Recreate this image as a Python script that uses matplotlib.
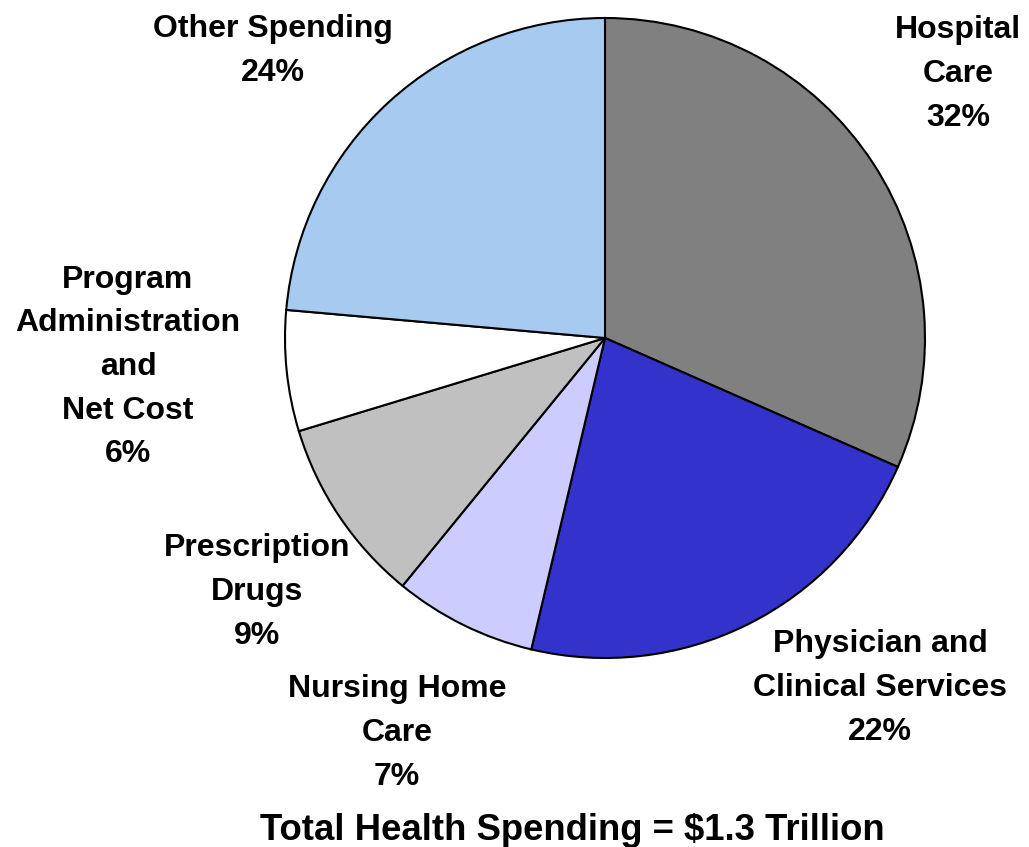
import matplotlib.pyplot as plt

W, H = 1029, 847

# slices, clockwise from 12 o'clock
categories = ["Hospital\nCare", "Physician and\nClinical Services", "Nursing Home\nCare",
              "Prescription\nDrugs", "Program\nAdministration\nand\nNet Cost", "Other Spending"]
shares = [31.6, 22.1, 7.2, 9.4, 6.1, 23.6]
pct_labels = ["32%", "22%", "7%", "9%", "6%", "24%"]
colors = ["#808080", "#3333CC", "#CCCCFF", "#C0C0C0", "#FFFFFF", "#A6CAF0"]

# label block centres in pixels
label_pos = [(958, 74), (880, 688), (397, 733), (257, 592), (128, 367), (273, 51)]

plt.rcParams['font.family'] = ['Liberation Sans', 'DejaVu Sans']

fig = plt.figure(figsize=(W / 100, H / 100), dpi=100)
cx, cy, r = 605, 338, 320
ax = fig.add_axes([(cx - r) / W, (H - cy - r) / H, 2 * r / W, 2 * r / H])
ax.pie(shares, colors=colors, startangle=90, counterclock=False,
       wedgeprops=dict(edgecolor='black', linewidth=1.5))
ax.set_xlim(-1, 1)
ax.set_ylim(-1, 1)
ax.set_aspect('equal')

for name, pct, (px, py) in zip(categories, pct_labels, label_pos):
    fig.text(px / W, 1 - py / H, f"{name}\n{pct}", ha='center', va='center',
             fontsize=23, fontweight='bold', linespacing=1.59)

fig.text(572 / W, 1 - 830 / H, "Total Health Spending = $1.3 Trillion",
         ha='center', va='center', fontsize=26.3, fontweight='bold')

fig.savefig("out.png", dpi=100)
